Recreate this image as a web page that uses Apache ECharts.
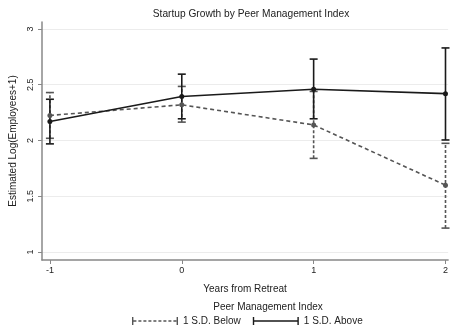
<!DOCTYPE html>
<html>
<head>
<meta charset="utf-8">
<script src="https://cdn.jsdelivr.net/npm/echarts@6/dist/echarts.min.js"></script>
<style>
html,body{margin:0;padding:0;background:#fff;}
#c{width:451px;height:333px;}
</style>
</head>
<body>
<div id="c"></div>
<script>
const years = [-1, 0, 1, 2];
const xTicks = [-1, 0, 1, 2];
const yTicks = [1, 1.5, 2, 2.5, 3];
const belowMean = [2.225, 2.32, 2.14, 1.60];
const belowLo = [2.02, 2.165, 1.84, 1.215];
const belowHi = [2.43, 2.485, 2.44, 1.975];
const aboveMean = [2.17, 2.395, 2.46, 2.42];
const aboveLo = [1.97, 2.195, 2.195, 2.005];
const aboveHi = [2.37, 2.595, 2.73, 2.83];

const FONT = "'Liberation Sans', Arial, sans-serif";
const belowColor = '#555555';
const aboveColor = '#1a1a1a';

function capRender(color, dashed) {
  return function (params, api) {
    const x = api.value(0);
    const pLo = api.coord([x, api.value(1)]);
    const pHi = api.coord([x, api.value(2)]);
    const w = 4;
    const style = { stroke: color, lineWidth: 1.6, lineDash: dashed ? [3, 2] : null };
    const capStyle = { stroke: color, lineWidth: 1.6 };
    return {
      type: 'group',
      children: [
        { type: 'line', shape: { x1: pLo[0], y1: pLo[1], x2: pHi[0], y2: pHi[1] }, style: style },
        { type: 'line', shape: { x1: pLo[0] - w, y1: pLo[1], x2: pLo[0] + w, y2: pLo[1] }, style: capStyle },
        { type: 'line', shape: { x1: pHi[0] - w, y1: pHi[1], x2: pHi[0] + w, y2: pHi[1] }, style: capStyle }
      ]
    };
  };
}

const solidIcon = 'path://M0,0h1.4v8h-1.4z M0,3.3h46v1.4h-46z M44.6,0h1.4v8h-1.4z';
let dashParts = 'path://M0,0h1.4v8h-1.4z M44.6,0h1.4v8h-1.4z';
for (let x = 1.4; x < 44.6; x += 5) {
  const w = Math.min(3, 44.6 - x);
  dashParts += ' M' + x.toFixed(1) + ',3.3h' + w.toFixed(1) + 'v1.4h-' + w.toFixed(1) + 'z';
}
const dashedIcon = dashParts;

const chart = echarts.init(document.getElementById('c'), null, { renderer: 'canvas' });
chart.setOption({
  backgroundColor: '#ffffff',
  animation: false,
  textStyle: { fontFamily: FONT },
  title: [
    { text: 'Startup Growth by Peer Management Index', left: 246, top: 4, textAlign: 'center',
      textStyle: { fontSize: 10.2, fontWeight: 'normal', color: '#222', fontFamily: FONT } },
    { text: 'Peer Management Index', left: 263, top: 297, textAlign: 'center',
      textStyle: { fontSize: 10, fontWeight: 'normal', color: '#222', fontFamily: FONT } }
  ],
  legend: {
    bottom: 2, left: 127,
    itemWidth: 46, itemHeight: 8, itemGap: 12,
    symbolKeepAspect: false,
    textStyle: { fontSize: 10, color: '#222', fontFamily: FONT },
    data: [
      { name: '1 S.D. Below', icon: dashedIcon, itemStyle: { color: belowColor, borderWidth: 0 } },
      { name: '1 S.D. Above', icon: solidIcon, itemStyle: { color: aboveColor, borderWidth: 0 } }
    ]
  },
  grid: { left: 42, right: 1, top: 22, bottom: 73, containLabel: false },
  xAxis: {
    type: 'value', min: -1.06, max: 2.02,
    name: 'Years from Retreat', nameLocation: 'middle', nameGap: 24,
    nameTextStyle: { fontSize: 10, color: '#222', fontFamily: FONT },
    axisLine: { show: true, onZero: false, lineStyle: { color: '#888', width: 1.5 } },
    axisTick: { show: true, length: 4, customValues: xTicks, lineStyle: { color: '#888' } },
    axisLabel: { customValues: xTicks, fontSize: 9, color: '#222', margin: 6, fontFamily: FONT },
    splitLine: { show: false }
  },
  yAxis: {
    type: 'value', min: 0.929, max: 3.0625,
    name: 'Estimated Log(Employees+1)', nameLocation: 'middle', nameGap: 24, nameRotate: 90,
    nameTextStyle: { fontSize: 10, color: '#222', fontFamily: FONT },
    axisLine: { show: true, onZero: false, lineStyle: { color: '#888', width: 1.5 } },
    axisTick: { show: true, length: 4, customValues: yTicks, lineStyle: { color: '#888' } },
    axisLabel: { customValues: yTicks, rotate: 90, fontSize: 9, color: '#222', margin: 7, fontFamily: FONT },
    splitLine: { show: true, lineStyle: { color: '#ececec', width: 1 } }
  },
  series: [
    {
      name: '1 S.D. Below', type: 'custom',
      renderItem: capRender(belowColor, true),
      data: years.map((y, i) => [y, belowLo[i], belowHi[i]]),
      z: 2, silent: true
    },
    {
      name: '1 S.D. Above', type: 'custom',
      renderItem: capRender(aboveColor, false),
      data: years.map((y, i) => [y, aboveLo[i], aboveHi[i]]),
      z: 3, silent: true
    },
    {
      name: '1 S.D. Below', type: 'line',
      data: years.map((y, i) => [y, belowMean[i]]),
      symbol: 'circle', symbolSize: 5,
      itemStyle: { color: belowColor },
      lineStyle: { color: belowColor, width: 1.6, type: [4, 3] },
      z: 4
    },
    {
      name: '1 S.D. Above', type: 'line',
      data: years.map((y, i) => [y, aboveMean[i]]),
      symbol: 'circle', symbolSize: 5,
      itemStyle: { color: aboveColor },
      lineStyle: { color: aboveColor, width: 1.6 },
      z: 5
    }
  ]
});
</script>
</body>
</html>
